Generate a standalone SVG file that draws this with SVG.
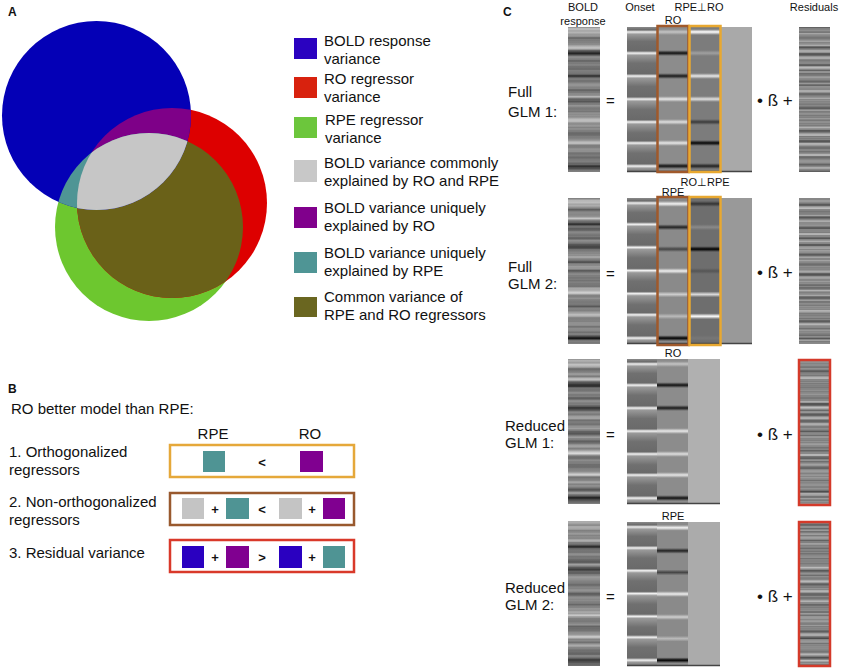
<svg xmlns="http://www.w3.org/2000/svg" width="843" height="672" viewBox="0 0 843 672">
<style>
text{font-family:"Liberation Sans",Arial,sans-serif;fill:#111}
.pl{font-size:12px;font-weight:bold}
.t15{font-size:15px}
.t11{font-size:11px}
.mid{text-anchor:middle}
.op{font-size:13px;font-weight:bold;text-anchor:middle}
.box{fill:none;stroke-width:2.5}
.tex{opacity:0.3}
</style>
<defs>
<clipPath id="cBlue"><circle cx="96.5" cy="115.5" r="94.5"/></clipPath>
<clipPath id="cRed"><circle cx="172" cy="203" r="95"/></clipPath>
<clipPath id="cGreen"><circle cx="149" cy="227" r="94"/></clipPath>
<linearGradient id="gBold" x1="0" y1="0" x2="0" y2="1">
<stop offset="0" stop-color="#a0a0a0"/><stop offset="0.04" stop-color="#c8c8c8"/><stop offset="0.08" stop-color="#7a7a7a"/><stop offset="0.12" stop-color="#909090"/><stop offset="0.14" stop-color="#e4e4e4"/><stop offset="0.16" stop-color="#555"/><stop offset="0.18" stop-color="#111"/><stop offset="0.2" stop-color="#666"/><stop offset="0.24" stop-color="#8c8c8c"/><stop offset="0.27" stop-color="#5a5a5a"/><stop offset="0.3" stop-color="#909090"/><stop offset="0.335" stop-color="#1a1a1a"/><stop offset="0.355" stop-color="#777"/><stop offset="0.4" stop-color="#9a9a9a"/><stop offset="0.44" stop-color="#6a6a6a"/><stop offset="0.48" stop-color="#a8a8a8"/><stop offset="0.5" stop-color="#555"/><stop offset="0.54" stop-color="#8a8a8a"/><stop offset="0.58" stop-color="#6e6e6e"/><stop offset="0.62" stop-color="#aaa"/><stop offset="0.65" stop-color="#f2f2f2"/><stop offset="0.67" stop-color="#777"/><stop offset="0.71" stop-color="#8e8e8e"/><stop offset="0.74" stop-color="#5e5e5e"/><stop offset="0.78" stop-color="#9a9a9a"/><stop offset="0.8" stop-color="#eaeaea"/><stop offset="0.82" stop-color="#777"/><stop offset="0.86" stop-color="#999"/><stop offset="0.9" stop-color="#6a6a6a"/><stop offset="0.93" stop-color="#888"/><stop offset="0.96" stop-color="#111"/><stop offset="0.98" stop-color="#555"/><stop offset="1" stop-color="#888"/>
</linearGradient>
<linearGradient id="gOnset" x1="0" y1="0" x2="0" y2="1">
<stop offset="0" stop-color="#8a8a8a"/><stop offset="0.02" stop-color="#6a6a6a"/><stop offset="0.034" stop-color="#f0f0f0"/><stop offset="0.05" stop-color="#9a9a9a"/><stop offset="0.1" stop-color="#707070"/>
<stop offset="0.165" stop-color="#6a6a6a"/><stop offset="0.18" stop-color="#f4f4f4"/><stop offset="0.195" stop-color="#999"/><stop offset="0.25" stop-color="#707070"/>
<stop offset="0.323" stop-color="#6a6a6a"/><stop offset="0.338" stop-color="#f4f4f4"/><stop offset="0.353" stop-color="#999"/><stop offset="0.41" stop-color="#707070"/>
<stop offset="0.482" stop-color="#6a6a6a"/><stop offset="0.497" stop-color="#f4f4f4"/><stop offset="0.512" stop-color="#999"/><stop offset="0.57" stop-color="#707070"/>
<stop offset="0.64" stop-color="#6a6a6a"/><stop offset="0.655" stop-color="#f4f4f4"/><stop offset="0.67" stop-color="#999"/><stop offset="0.73" stop-color="#707070"/>
<stop offset="0.785" stop-color="#6a6a6a"/><stop offset="0.8" stop-color="#f4f4f4"/><stop offset="0.815" stop-color="#999"/><stop offset="0.87" stop-color="#707070"/>
<stop offset="0.944" stop-color="#6a6a6a"/><stop offset="0.959" stop-color="#f4f4f4"/><stop offset="0.974" stop-color="#999"/><stop offset="1" stop-color="#707070"/>
</linearGradient>
<linearGradient id="gRO" x1="0" y1="0" x2="0" y2="1">
<stop offset="0" stop-color="#8c8c8c"/><stop offset="0.015" stop-color="#8c8c8c"/><stop offset="0.034" stop-color="#c4c4c4"/><stop offset="0.055" stop-color="#8c8c8c"/>
<stop offset="0.16" stop-color="#8c8c8c"/><stop offset="0.18" stop-color="#111"/><stop offset="0.2" stop-color="#8c8c8c"/>
<stop offset="0.318" stop-color="#8c8c8c"/><stop offset="0.338" stop-color="#1a1a1a"/><stop offset="0.358" stop-color="#8c8c8c"/>
<stop offset="0.477" stop-color="#8c8c8c"/><stop offset="0.497" stop-color="#e8e8e8"/><stop offset="0.517" stop-color="#8c8c8c"/>
<stop offset="0.635" stop-color="#8c8c8c"/><stop offset="0.655" stop-color="#dedede"/><stop offset="0.675" stop-color="#8c8c8c"/>
<stop offset="0.78" stop-color="#8c8c8c"/><stop offset="0.8" stop-color="#e6e6e6"/><stop offset="0.82" stop-color="#8c8c8c"/>
<stop offset="0.939" stop-color="#8c8c8c"/><stop offset="0.959" stop-color="#111"/><stop offset="0.979" stop-color="#8c8c8c"/><stop offset="1" stop-color="#8c8c8c"/>
</linearGradient>
<linearGradient id="gRPEoRO" x1="0" y1="0" x2="0" y2="1">
<stop offset="0" stop-color="#7c7c7c"/><stop offset="0.015" stop-color="#7c7c7c"/><stop offset="0.034" stop-color="#fff"/><stop offset="0.055" stop-color="#7c7c7c"/>
<stop offset="0.16" stop-color="#7c7c7c"/><stop offset="0.18" stop-color="#a0a0a0"/><stop offset="0.2" stop-color="#7c7c7c"/>
<stop offset="0.318" stop-color="#7c7c7c"/><stop offset="0.338" stop-color="#e8e8e8"/><stop offset="0.358" stop-color="#7c7c7c"/>
<stop offset="0.477" stop-color="#7c7c7c"/><stop offset="0.497" stop-color="#e0e0e0"/><stop offset="0.517" stop-color="#7c7c7c"/>
<stop offset="0.635" stop-color="#7c7c7c"/><stop offset="0.655" stop-color="#3a3a3a"/><stop offset="0.675" stop-color="#7c7c7c"/>
<stop offset="0.78" stop-color="#7c7c7c"/><stop offset="0.8" stop-color="#050505"/><stop offset="0.82" stop-color="#7c7c7c"/>
<stop offset="0.939" stop-color="#7c7c7c"/><stop offset="0.959" stop-color="#222"/><stop offset="0.979" stop-color="#7c7c7c"/><stop offset="1" stop-color="#7c7c7c"/>
</linearGradient>
<linearGradient id="gRPE" x1="0" y1="0" x2="0" y2="1">
<stop offset="0" stop-color="#8a8a8a"/><stop offset="0.02" stop-color="#8a8a8a"/><stop offset="0.04" stop-color="#f2f2f2"/><stop offset="0.06" stop-color="#8a8a8a"/>
<stop offset="0.18" stop-color="#8a8a8a"/><stop offset="0.2" stop-color="#222"/><stop offset="0.22" stop-color="#8a8a8a"/>
<stop offset="0.33" stop-color="#8a8a8a"/><stop offset="0.35" stop-color="#444"/><stop offset="0.37" stop-color="#8a8a8a"/>
<stop offset="0.48" stop-color="#8a8a8a"/><stop offset="0.5" stop-color="#eee"/><stop offset="0.52" stop-color="#8a8a8a"/>
<stop offset="0.64" stop-color="#8a8a8a"/><stop offset="0.66" stop-color="#cfcfcf"/><stop offset="0.68" stop-color="#8a8a8a"/>
<stop offset="0.79" stop-color="#8a8a8a"/><stop offset="0.81" stop-color="#bbb"/><stop offset="0.83" stop-color="#8a8a8a"/>
<stop offset="0.94" stop-color="#8a8a8a"/><stop offset="0.96" stop-color="#000"/><stop offset="0.98" stop-color="#8a8a8a"/><stop offset="1" stop-color="#8a8a8a"/>
</linearGradient>
<linearGradient id="gROoRPE" x1="0" y1="0" x2="0" y2="1">
<stop offset="0" stop-color="#6e6e6e"/><stop offset="0.02" stop-color="#6e6e6e"/><stop offset="0.04" stop-color="#333"/><stop offset="0.06" stop-color="#6e6e6e"/>
<stop offset="0.18" stop-color="#6e6e6e"/><stop offset="0.2" stop-color="#8a8a8a"/><stop offset="0.22" stop-color="#6e6e6e"/>
<stop offset="0.33" stop-color="#6e6e6e"/><stop offset="0.35" stop-color="#000"/><stop offset="0.37" stop-color="#6e6e6e"/>
<stop offset="0.48" stop-color="#6e6e6e"/><stop offset="0.5" stop-color="#555"/><stop offset="0.52" stop-color="#6e6e6e"/>
<stop offset="0.64" stop-color="#6e6e6e"/><stop offset="0.66" stop-color="#ddd"/><stop offset="0.68" stop-color="#6e6e6e"/>
<stop offset="0.79" stop-color="#6e6e6e"/><stop offset="0.81" stop-color="#fff"/><stop offset="0.83" stop-color="#6e6e6e"/>
<stop offset="0.94" stop-color="#6e6e6e"/><stop offset="0.96" stop-color="#777"/><stop offset="0.98" stop-color="#6e6e6e"/><stop offset="1" stop-color="#6e6e6e"/>
</linearGradient>
<filter id="fRes1" x="0" y="0" width="1" height="1" color-interpolation-filters="sRGB">
<feTurbulence type="fractalNoise" baseFrequency="0 0.3" numOctaves="2" seed="3"/>
<feColorMatrix type="matrix" values="0.85 0 0 0 0.1  0.85 0 0 0 0.1  0.85 0 0 0 0.1  0 0 0 0 1"/>
</filter>
<filter id="fRes2" x="0" y="0" width="1" height="1" color-interpolation-filters="sRGB">
<feTurbulence type="fractalNoise" baseFrequency="0 0.3" numOctaves="2" seed="11"/>
<feColorMatrix type="matrix" values="0.85 0 0 0 0.1  0.85 0 0 0 0.1  0.85 0 0 0 0.1  0 0 0 0 1"/>
</filter>
<filter id="fTex" x="0" y="0" width="1" height="1" color-interpolation-filters="sRGB">
<feTurbulence type="fractalNoise" baseFrequency="0 0.25" numOctaves="2" seed="7"/>
<feColorMatrix type="matrix" values="1.6 0 0 0 -0.3  1.6 0 0 0 -0.3  1.6 0 0 0 -0.3  0 0 0 0 1"/>
</filter>
</defs>
<rect width="843" height="672" fill="#fff"/>

<g id="panelA">
<text class="pl" x="8" y="16">A</text>
<g id="venn">
<circle cx="149" cy="227" r="94" fill="#6dc72f"/>
<circle cx="172" cy="203" r="95" fill="#dd0000"/>
<circle cx="172" cy="203" r="95" fill="#6a6118" clip-path="url(#cGreen)"/>
<circle cx="96.5" cy="115.5" r="94.5" fill="#0400b6"/>
<circle cx="172" cy="203" r="95" fill="#7e0088" clip-path="url(#cBlue)"/>
<circle cx="149" cy="227" r="94" fill="#4f9595" clip-path="url(#cBlue)"/>
<g clip-path="url(#cBlue)"><circle cx="172" cy="203" r="95" fill="#c6c6c6" clip-path="url(#cGreen)"/></g>
</g>
<g id="legend" class="t15">
<rect x="294" y="38" width="23" height="21" fill="#2a02c0"/>
<text x="324" y="46">BOLD response</text><text x="324" y="64">variance</text>
<rect x="294" y="77" width="23" height="21" fill="#d8220e"/>
<text x="324" y="84">RO regressor</text><text x="324" y="102">variance</text>
<rect x="294" y="117" width="23" height="21" fill="#6cc63c"/>
<text x="325" y="125">RPE regressor</text><text x="325" y="143">variance</text>
<rect x="294" y="160" width="23" height="22" fill="#c8c8c8"/>
<text x="324" y="168">BOLD variance commonly</text><text x="324" y="186">explained by RO and RPE</text>
<rect x="294" y="207" width="23" height="21" fill="#80008c"/>
<text x="324" y="213">BOLD variance uniquely</text><text x="324" y="231">explained by RO</text>
<rect x="294" y="252" width="23" height="21" fill="#4f9595"/>
<text x="324" y="258">BOLD variance uniquely</text><text x="324" y="276">explained by RPE</text>
<rect x="294" y="297" width="23" height="20" fill="#6a6620"/>
<text x="324" y="302">Common variance of</text><text x="324" y="320">RPE and RO regressors</text>
</g>
</g>

<g id="panelB">
<text class="pl" x="8" y="393">B</text>
<text class="t15" x="11" y="414">RO better model than RPE:</text>
<text class="t15 mid" x="213" y="439">RPE</text>
<text class="t15 mid" x="310" y="439">RO</text>
<g id="row1">
<text class="t15" x="9" y="457">1. Orthogonalized</text><text class="t15" x="9" y="475">regressors</text>
<rect class="box" x="170" y="445" width="184" height="32" stroke="#e5a83a"/>
<rect x="203" y="451" width="22" height="21" fill="#4f9494"/>
<text class="op" x="262" y="467">&lt;</text>
<rect x="300" y="451" width="23" height="21" fill="#800090"/>
</g>
<g id="row2">
<text class="t15" x="9" y="507">2. Non-orthogonalized</text><text class="t15" x="9" y="525">regressors</text>
<rect class="box" x="170" y="493" width="184" height="32" stroke="#99592e"/>
<rect x="182" y="498" width="22" height="21" fill="#c4c4c4"/>
<text class="op" x="215" y="514">+</text>
<rect x="226" y="498" width="23" height="21" fill="#4f9494"/>
<text class="op" x="262" y="514">&lt;</text>
<rect x="279" y="498" width="23" height="21" fill="#c4c4c4"/>
<text class="op" x="312" y="514">+</text>
<rect x="323" y="498" width="22" height="21" fill="#800090"/>
</g>
<g id="row3">
<text class="t15" x="9" y="558">3. Residual variance</text>
<rect class="box" x="170" y="540" width="184" height="32" stroke="#d9392a"/>
<rect x="182" y="546" width="22" height="22" fill="#2a00c0"/>
<text class="op" x="215" y="562">+</text>
<rect x="226" y="546" width="23" height="22" fill="#800090"/>
<text class="op" x="262" y="562">&gt;</text>
<rect x="279" y="546" width="23" height="22" fill="#2a00c0"/>
<text class="op" x="312" y="562">+</text>
<rect x="323" y="546" width="22" height="22" fill="#4f9494"/>
</g>
</g>

<g id="panelC">
<text class="pl" x="503" y="16">C</text>
<text class="t11 mid" x="583" y="11">BOLD</text>
<text class="t11 mid" x="583" y="25">response</text>
<text class="t11 mid" x="640" y="11">Onset</text>
<text class="t11 mid" x="699" y="11">RPE⊥RO</text>
<text class="t11 mid" x="814" y="11">Residuals</text>

<g id="full1">
<text class="t15" x="508" y="97">Full</text><text class="t15" x="508" y="117">GLM 1:</text>
<rect x="568" y="27" width="32" height="145" fill="url(#gBold)"/>
<rect class="tex" x="568" y="27" width="32" height="145" fill="#888" filter="url(#fTex)"/>
<text class="t15" x="606" y="106">=</text>
<rect x="627" y="27" width="30" height="145" fill="url(#gOnset)"/>
<rect x="657" y="27" width="32" height="145" fill="url(#gRO)"/>
<rect x="689" y="27" width="32" height="145" fill="url(#gRPEoRO)"/>
<rect x="721" y="27" width="31" height="145" fill="#a9a9a9"/>
<line x1="627" y1="171.5" x2="752" y2="171.5" stroke="#444" stroke-width="1.5"/>
<rect class="box" x="657.5" y="26" width="31" height="146" stroke="#a0592b"/>
<rect class="box" x="689.5" y="26" width="31" height="146" stroke="#e8a830"/>
<text class="t11 mid" x="673" y="24">RO</text>
<text class="t11 mid" x="705" y="186">RO⊥RPE</text>
<text x="757" y="106" font-size="17">• ß +</text>
<rect x="799" y="27" width="31" height="145" fill="#888" filter="url(#fRes1)"/>
</g>

<g id="full2">
<text class="t15" x="508" y="272">Full</text><text class="t15" x="508" y="289">GLM 2:</text>
<rect x="568" y="198" width="32" height="146" fill="url(#gBold)"/>
<rect class="tex" x="568" y="198" width="32" height="146" fill="#888" filter="url(#fTex)"/>
<text class="t15" x="606" y="279">=</text>
<rect x="627" y="198" width="30" height="146" fill="url(#gOnset)"/>
<rect x="657" y="198" width="32" height="146" fill="url(#gRPE)"/>
<rect x="689" y="198" width="32" height="146" fill="url(#gROoRPE)"/>
<rect x="721" y="198" width="31" height="146" fill="#999"/>
<line x1="627" y1="343.5" x2="752" y2="343.5" stroke="#444" stroke-width="1.5"/>
<rect class="box" x="657.5" y="197" width="31" height="148" stroke="#a0592b"/>
<rect class="box" x="689.5" y="197" width="31" height="148" stroke="#e8a830"/>
<text class="t11 mid" x="673" y="196">RPE</text>
<text x="757" y="278" font-size="17">• ß +</text>
<rect x="799" y="198" width="31" height="146" fill="#888" filter="url(#fRes2)"/>
</g>

<g id="reduced1">
<text class="t15" x="505" y="431">Reduced</text><text class="t15" x="505" y="448">GLM 1:</text>
<rect x="568" y="359" width="32" height="145" fill="url(#gBold)"/>
<rect class="tex" x="568" y="359" width="32" height="145" fill="#888" filter="url(#fTex)"/>
<text class="t15" x="606" y="440">=</text>
<rect x="627" y="359" width="30" height="145" fill="url(#gOnset)"/>
<rect x="657" y="359" width="31" height="145" fill="url(#gRO)"/>
<rect x="688" y="359" width="32" height="145" fill="#b0b0b0"/>
<line x1="627" y1="503.5" x2="720" y2="503.5" stroke="#444" stroke-width="1.5"/>
<text class="t11 mid" x="673" y="357">RO</text>
<text x="757" y="440" font-size="17">• ß +</text>
<rect x="799" y="360" width="31" height="145" fill="#888" filter="url(#fRes1)"/>
<rect class="box" x="799" y="360" width="31" height="145" stroke="#d43a2a"/>
</g>

<g id="reduced2">
<text class="t15" x="505" y="593">Reduced</text><text class="t15" x="505" y="610">GLM 2:</text>
<rect x="568" y="521" width="32" height="145" fill="url(#gBold)"/>
<rect class="tex" x="568" y="521" width="32" height="145" fill="#888" filter="url(#fTex)"/>
<text class="t15" x="606" y="602">=</text>
<rect x="627" y="522" width="30" height="144" fill="url(#gOnset)"/>
<rect x="657" y="522" width="31" height="144" fill="url(#gRPE)"/>
<rect x="688" y="522" width="32" height="144" fill="#ababab"/>
<line x1="627" y1="665.5" x2="720" y2="665.5" stroke="#444" stroke-width="1.5"/>
<text class="t11 mid" x="673" y="520">RPE</text>
<text x="757" y="602" font-size="17">• ß +</text>
<rect x="799" y="522" width="31" height="144" fill="#888" filter="url(#fRes2)"/>
<rect class="box" x="799" y="522" width="31" height="144" stroke="#d43a2a"/>
</g>
</g>
</svg>
